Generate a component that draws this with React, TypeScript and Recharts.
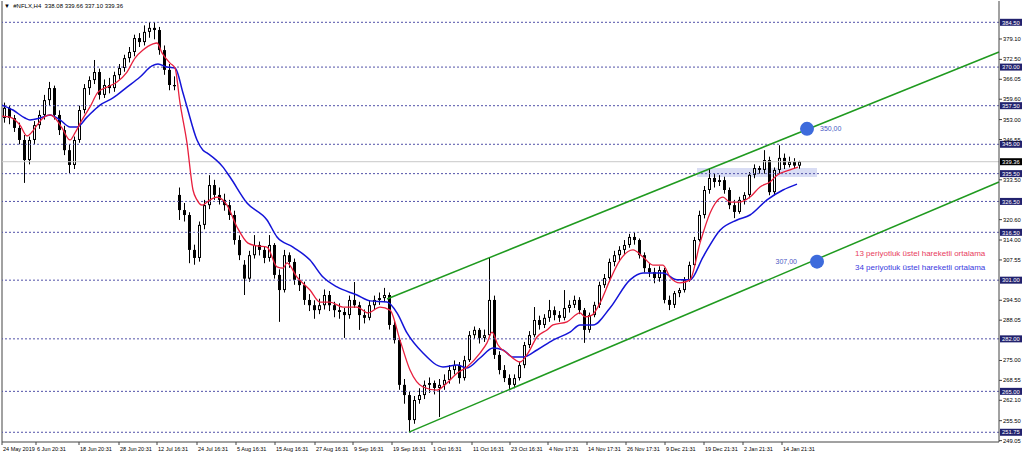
import React from 'react'
import { ComposedChart, Bar, Line, XAxis, YAxis, ReferenceLine, ReferenceArea, ReferenceDot } from 'recharts'

// H4 candles, left to right
const opens = [
  353.5, 356.8, 353.5, 350.3, 346.4, 339.9, 346.4, 351.2, 354.5, 359.3,
  363.2, 354.5, 349.6, 343.1, 338.3, 346.4, 356.1, 363.2, 365.8, 368.4,
  361.0, 364.2, 363.2, 367.4, 369.7, 372.9, 374.9, 379.4, 378.1, 381.4,
  382.7, 382.0, 375.5, 369.1, 364.2, 328.6, 323.7, 322.1, 310.8, 308.2,
  318.9, 325.3, 331.8, 328.6, 327.0, 325.3, 322.1, 314.0, 306.0, 301.5,
  309.1, 312.4, 310.8, 308.2, 312.4, 302.7, 297.8, 309.1, 306.9, 301.1,
  299.4, 294.6, 292.9, 291.3, 292.9, 296.2, 292.9, 291.3, 290.7, 289.7,
  294.6, 292.9, 289.7, 288.8, 292.9, 294.6, 295.2, 296.2, 286.5, 281.6,
  267.1, 263.8, 255.7, 262.2, 263.8, 267.1, 267.7, 266.1, 267.1, 268.7,
  271.9, 273.5, 269.3, 275.1, 283.2, 284.9, 282.3, 283.2, 294.6, 276.8,
  271.9, 269.3, 267.1, 269.3, 273.5, 280.0, 283.2, 288.1, 286.5, 288.8,
  291.3, 289.7, 288.8, 292.0, 293.0, 294.6, 291.3, 284.9, 289.7, 293.0,
  299.4, 301.7, 306.9, 309.1, 310.8, 312.4, 315.0, 314.0, 309.1, 304.9,
  303.6, 301.7, 304.3, 294.6, 293.0, 296.8, 297.8, 301.1, 305.9, 314.0,
  322.1, 330.2, 334.1, 332.8, 333.4, 330.2, 325.3, 323.1, 327.0, 328.6,
  335.1, 337.3, 336.7, 339.9, 329.5, 336.7, 340.6, 338.3, 339.3, 338.08,
]
const highs = [
  358.5, 357.5, 354.5, 352.0, 348.0, 347.5, 352.5, 356.0, 361.0, 365.2,
  364.0, 356.0, 351.0, 345.0, 347.5, 357.5, 364.5, 367.0, 372.3, 369.5,
  366.0, 366.5, 368.5, 371.0, 374.0, 376.5, 380.5, 381.0, 383.5, 384.6,
  384.6, 383.0, 377.0, 371.0, 367.0, 331.0, 326.0, 323.0, 312.5, 320.0,
  327.0, 335.0, 333.5, 331.0, 329.0, 327.0, 323.5, 315.5, 307.5, 310.5,
  315.6, 313.5, 312.0, 315.6, 313.0, 304.5, 310.8, 310.0, 308.0, 303.0,
  300.5, 296.5, 294.5, 295.0, 298.0, 297.5, 294.0, 293.5, 292.0, 296.0,
  300.4, 294.0, 291.5, 294.5, 296.0, 297.0, 298.5, 297.0, 288.0, 282.0,
  269.0, 265.0, 263.5, 266.0, 268.5, 269.5, 268.5, 269.0, 270.5, 273.5,
  275.0, 274.5, 276.5, 284.5, 286.0, 285.5, 285.0, 308.2, 296.0, 278.0,
  273.5, 270.5, 270.5, 274.5, 281.0, 284.5, 292.3, 289.5, 290.0, 294.6,
  292.5, 291.0, 297.8, 294.5, 296.0, 295.5, 292.0, 290.5, 294.0, 300.5,
  303.0, 308.0, 310.5, 312.0, 314.0, 316.0, 316.5, 314.5, 310.0, 306.5,
  305.0, 305.5, 305.0, 296.0, 297.5, 298.5, 302.0, 307.0, 315.0, 323.5,
  331.5, 337.3, 335.5, 335.0, 334.5, 331.0, 327.0, 328.0, 329.5, 336.0,
  338.5, 338.0, 343.1, 341.0, 337.5, 344.7, 342.0, 341.0, 340.5, 339.66,
]
const lows = [
  352.0, 351.5, 349.0, 345.0, 332.5, 338.5, 345.0, 350.0, 353.0, 357.5,
  353.0, 348.0, 341.5, 335.7, 337.0, 345.5, 355.0, 361.0, 364.5, 359.5,
  360.0, 361.5, 362.0, 366.0, 368.5, 371.5, 373.5, 376.5, 377.0, 379.5,
  379.0, 374.0, 367.5, 362.5, 362.5, 320.5, 320.0, 306.5, 306.0, 307.0,
  317.5, 324.0, 327.0, 325.5, 323.5, 320.5, 312.5, 307.5, 296.2, 300.5,
  308.0, 309.0, 306.5, 307.0, 301.5, 287.5, 297.0, 305.0, 299.5, 297.5,
  293.0, 291.0, 288.5, 290.0, 291.5, 291.0, 289.0, 288.5, 282.3, 288.5,
  292.0, 284.9, 287.0, 288.0, 291.5, 293.0, 294.0, 285.0, 280.5, 265.5,
  261.0, 251.8, 254.5, 261.0, 262.5, 264.5, 264.0, 256.7, 265.5, 267.5,
  270.5, 267.5, 268.5, 274.5, 282.0, 280.5, 281.0, 282.5, 275.5, 270.5,
  268.0, 265.4, 266.0, 268.5, 272.5, 279.0, 282.5, 285.0, 285.5, 287.5,
  288.0, 287.5, 288.0, 290.5, 292.0, 290.0, 280.7, 284.0, 289.0, 292.0,
  298.5, 300.5, 305.5, 307.0, 309.5, 311.5, 312.5, 308.0, 303.5, 302.0,
  300.0, 300.5, 293.5, 291.3, 292.0, 295.5, 297.0, 300.5, 305.0, 313.5,
  321.0, 329.0, 331.0, 331.5, 329.0, 324.0, 321.1, 322.5, 325.5, 327.5,
  334.0, 335.5, 335.5, 328.5, 328.5, 335.5, 337.0, 337.5, 337.0, 337.10,
]
const closes = [
  356.8, 353.5, 350.3, 346.4, 339.9, 346.4, 351.2, 354.5, 359.3, 363.2,
  354.5, 349.6, 343.1, 338.3, 346.4, 356.1, 363.2, 365.8, 368.4, 361.0,
  364.2, 363.2, 367.4, 369.7, 372.9, 374.9, 379.4, 378.1, 381.4, 382.7,
  382.0, 375.5, 369.1, 364.2, 363.8, 323.7, 322.1, 310.8, 308.2, 318.9,
  325.3, 331.8, 328.6, 327.0, 325.3, 322.1, 314.0, 309.1, 301.5, 309.1,
  312.4, 310.8, 308.2, 312.4, 302.7, 297.8, 309.1, 306.9, 301.1, 299.4,
  294.6, 292.9, 291.3, 292.9, 296.2, 292.9, 291.3, 290.7, 289.7, 294.6,
  292.9, 289.7, 288.8, 292.9, 294.6, 295.2, 296.2, 286.5, 281.6, 267.1,
  263.8, 255.7, 262.2, 263.8, 267.1, 267.7, 266.1, 267.1, 268.7, 271.9,
  273.5, 269.3, 275.1, 283.2, 284.9, 282.3, 283.2, 294.6, 276.8, 271.9,
  269.3, 267.1, 269.3, 273.5, 280.0, 283.2, 288.1, 286.5, 288.8, 291.3,
  289.7, 288.8, 292.0, 293.0, 294.6, 291.3, 284.9, 289.7, 293.0, 299.4,
  301.7, 306.9, 309.1, 310.8, 312.4, 315.0, 314.0, 309.1, 304.9, 303.6,
  301.7, 304.3, 294.6, 293.0, 296.8, 297.8, 301.1, 305.9, 314.0, 322.1,
  330.2, 334.1, 332.8, 333.4, 330.2, 325.3, 323.1, 327.0, 328.6, 335.1,
  337.3, 336.7, 339.9, 329.5, 336.7, 340.6, 338.3, 339.3, 338.1, 339.36,
]

// moving averages: [bar index, price]
const ema13Points: [number, number][] = [
  [-0.4, 354.1], [1.2, 353.8], [2.2, 352.9], [3.2, 351.2], [4.6, 347.7], [5.6, 349.0],
  [6.6, 351.2], [7.8, 353.5], [9.2, 354.5], [10.2, 353.5], [11.6, 350.3], [13.2, 346.4],
  [14.2, 348.7], [15.6, 352.9], [17.2, 357.1], [18.8, 361.9], [20.6, 363.5], [22.6, 365.2],
  [24.6, 368.4], [26.2, 372.9], [27.8, 375.5], [29.8, 377.5], [30.6, 377.8], [31.6, 374.6],
  [33.2, 371.3], [34.2, 369.7], [35.2, 358.4], [36.6, 345.4], [37.8, 330.2], [38.6, 327.0],
  [39.6, 325.3], [41.2, 327.0], [42.6, 327.9], [44.6, 325.3], [46.6, 318.2], [48.8, 313.0],
  [50.6, 312.1], [52.6, 311.7], [54.6, 305.3], [55.8, 304.9], [56.6, 306.6], [58.6, 302.0],
  [61.2, 297.8], [63.2, 293.9], [65.2, 293.9], [67.8, 292.3], [70.6, 292.3], [72.8, 290.4],
  [75.2, 292.3], [77.2, 291.3], [79.2, 281.6], [81.2, 271.9], [83.8, 266.4], [86.6, 265.4],
  [88.6, 267.7], [90.6, 270.9], [92.6, 272.9], [95.2, 277.4], [96.6, 280.7], [97.6, 284.2],
  [98.8, 280.0], [100.6, 277.4], [103.2, 274.5], [104.8, 277.4], [106.6, 282.6], [108.6, 284.9],
  [109.8, 286.5], [112.6, 287.5], [115.2, 290.4], [116.2, 289.1], [117.6, 289.7], [119.2, 293.6],
  [121.2, 301.1], [123.2, 307.5], [125.8, 310.8], [127.8, 308.5], [129.8, 305.9], [131.8, 305.9],
  [133.2, 302.0], [135.2, 300.1], [137.2, 301.1], [139.2, 313.0], [141.2, 322.7], [143.8, 327.9],
  [145.2, 326.3], [147.2, 326.3], [149.2, 327.9], [151.2, 331.2], [153.2, 332.8], [154.6, 335.0],
  [157.2, 336.7], [158.8, 337.6],
]
const ema34Points: [number, number][] = [
  [-0.4, 357.7], [1.8, 356.1], [4.2, 353.5], [5.2, 352.9], [7.2, 353.5], [9.2, 354.5],
  [11.2, 352.9], [13.2, 350.6], [14.6, 350.6], [16.6, 353.8], [19.2, 357.7], [21.8, 360.0],
  [24.6, 363.5], [27.2, 366.8], [29.6, 370.4], [30.8, 371.0], [32.6, 370.0], [34.2, 369.7],
  [35.8, 361.6], [36.6, 357.1], [38.6, 346.4], [39.8, 343.1], [40.6, 342.2], [43.8, 337.6],
  [45.2, 334.4], [48.6, 326.0], [52.6, 320.5], [54.6, 315.0], [57.8, 311.7], [61.2, 307.5],
  [63.8, 302.0], [66.6, 298.8], [70.6, 296.2], [73.2, 294.3], [76.6, 293.9], [78.6, 290.4],
  [80.6, 283.9], [83.8, 277.4], [87.8, 272.9], [90.6, 273.5], [92.6, 272.6], [95.2, 275.8],
  [97.8, 279.0], [99.8, 278.4], [101.8, 276.1], [103.8, 276.1], [106.6, 278.4], [109.8, 281.6],
  [113.2, 284.2], [115.2, 286.5], [117.8, 286.5], [121.2, 292.0], [125.2, 301.1], [127.8, 303.3],
  [131.8, 303.3], [134.6, 301.1], [137.2, 301.1], [139.8, 308.5], [143.2, 317.2], [146.6, 320.5],
  [149.2, 322.1], [152.6, 327.0], [155.8, 330.2], [158.6, 332.1],
]

const dateTickIdx = [-0.4, 6.4, 15, 23, 30.6, 38.6, 46.4, 54.2, 62.2, 69.8, 77.6, 85.6, 93.6, 101.2, 108.8, 116.6, 124.4, 132.2, 140, 147.8, 155.6]
const dateLabels = [
  '24 May 2019', '6 Jun 20:31', '18 Jun 20:31', '28 Jun 20:31', '12 Jul 16:31', '24 Jul 16:31',
  '5 Aug 16:31', '15 Aug 16:31', '27 Aug 16:31', '9 Sep 16:31', '19 Sep 16:31', '1 Oct 16:31',
  '11 Oct 16:31', '23 Oct 16:31', '4 Nov 17:31', '14 Nov 17:31', '26 Nov 17:31', '9 Dec 21:31',
  '19 Dec 21:31', '2 Jan 21:31', '14 Jan 21:31',
]
const priceTicks = [249.05, 255.5, 262.1, 268.55, 275.0, 288.05, 294.5, 307.55, 314.0, 320.6, 333.5, 346.55, 353.0, 359.6, 366.05, 372.5, 379.1]
const levels = [384.5, 370, 357.5, 345, 335.5, 326.5, 316.5, 301, 282, 265, 251.75]
const lastPrice = 339.36

// channel + targets
const upperChannel: [number, number][] = [[76.6, 294.9], [199, 374.9]]
const lowerChannel: [number, number][] = [[81, 251.8], [199, 332.8]]
const targets = [
  { i: 160.6, price: 350, label: '350,00', side: 'right' },
  { i: 162.6, price: 307, label: '307,00', side: 'left' },
]
const zone = { i1: 138.6, i2: 162.6, p1: 334.4, p2: 337.3 }

const candles = opens.map((o, i) => ({
  i,
  o,
  h: highs[i],
  l: lows[i],
  c: closes[i],
  range: [lows[i], highs[i]],
}))

const Candle = (props: any) => {
  const { x, y, width, height, payload } = props
  const { o, h, l, c } = payload
  const top = Math.min(y, y + height)
  const hgt = Math.abs(height)
  const k = h - l > 0 ? hgt / (h - l) : 0
  const cx = Math.round(x + width / 2) + 0.5
  const yO = top + (h - o) * k
  const yC = top + (h - c) * k
  const bTop = Math.min(yO, yC)
  const bH = Math.max(1, Math.abs(yO - yC))
  const bull = c >= o
  return (
    <g>
      <line x1={cx} x2={cx} y1={top} y2={top + hgt} stroke="#000" strokeWidth={1} />
      <rect x={cx - 1.5} y={bTop} width={3} height={bH} fill="#000" />
      {bull && bH > 2 && <rect x={cx - 0.5} y={bTop + 1} width={1} height={bH - 2} fill="#fff" />}
    </g>
  )
}

const LevelBox = ({ viewBox, text, bg }: any) => {
  if (!viewBox) return null
  const x = viewBox.x + viewBox.width + 1
  return (
    <g>
      <rect x={x} y={viewBox.y - 3.5} width={22} height={7} fill={bg} />
      <text x={x + 2} y={viewBox.y + 2.2} fontSize={5.8} fill="#fff" fontFamily="Liberation Sans, Arial">{text}</text>
    </g>
  )
}

const font = 'Liberation Sans, Arial, sans-serif'

export default function App() {
  return (
    <div style={{ position: 'relative', width: 1024, height: 456, background: '#fff', fontFamily: font }}>
      <style>{'body{margin:0}'}</style>
      <ComposedChart width={1024} height={456} data={candles} margin={{ top: 1, right: 0, bottom: 0, left: 2 }}>
        <XAxis
          dataKey="i"
          type="number"
          domain={[-0.4, 199]}
          allowDataOverflow
          ticks={dateTickIdx}
          interval={0}
          height={14}
          tickSize={3}
          stroke="#444"
          tick={(p: any) => (
            <text x={p.x + 1} y={p.y + 4} fontSize={5.5} fill="#000" fontFamily={font} textAnchor="start">
              {dateLabels[dateTickIdx.indexOf(p.payload.value)]}
            </text>
          )}
        />
        <YAxis
          orientation="right"
          type="number"
          domain={[248.6, 391.4]}
          allowDataOverflow
          ticks={priceTicks}
          interval={0}
          width={25}
          tickSize={3}
          tickMargin={1}
          stroke="#444"
          tick={(p: any) => (
            <text x={p.x} y={p.y + 2} fontSize={5.8} fill="#000" fontFamily={font} textAnchor="start">
              {Number(p.payload.value).toFixed(2)}
            </text>
          )}
        />
        <ReferenceLine x={-0.4} stroke="#444" />
        <ReferenceArea x1={zone.i1} x2={zone.i2} y1={zone.p1} y2={zone.p2} fill="#d9ddf4" fillOpacity={1} stroke="none" />
        <ReferenceLine y={lastPrice} stroke="#c8c8c8" label={<LevelBox text={lastPrice.toFixed(2)} bg="#000" />} />
        {levels.map((lv) => (
          <ReferenceLine
            key={lv}
            y={lv}
            stroke="#5252a8"
            strokeDasharray="2 2"
            label={<LevelBox text={lv.toFixed(2)} bg="#22226e" />}
          />
        ))}
        <ReferenceLine
          segment={upperChannel.map(([x, y]) => ({ x, y }))}
          stroke="#1f9a1f"
          strokeWidth={1.5}
        />
        <ReferenceLine
          segment={lowerChannel.map(([x, y]) => ({ x, y }))}
          stroke="#1f9a1f"
          strokeWidth={1.5}
        />
        <Bar dataKey="range" shape={<Candle />} barSize={3} isAnimationActive={false} />
        <Line
          data={ema34Points.map(([i, v]) => ({ i, v }))}
          dataKey="v"
          type="monotone"
          stroke="#1414d8"
          strokeWidth={1.5}
          dot={false}
          isAnimationActive={false}
        />
        <Line
          data={ema13Points.map(([i, v]) => ({ i, v }))}
          dataKey="v"
          type="monotone"
          stroke="#e8203e"
          strokeWidth={1.3}
          dot={false}
          isAnimationActive={false}
        />
        {targets.map((t) => (
          <ReferenceDot
            key={t.label}
            x={t.i}
            y={t.price}
            r={7}
            fill="#3d6bdc"
            stroke="none"
            label={{ value: t.label, position: t.side as any, offset: t.side === 'right' ? 6 : 13, fill: '#4a58c4', fontSize: 7, fontFamily: font }}
          />
        ))}
      </ComposedChart>
      <div style={{ position: 'absolute', left: 4, top: 3, fontSize: 6, color: '#000', whiteSpace: 'nowrap' }}>
        ▼ &nbsp;#NFLX,H4 &nbsp;338.08 339.66 337.10 339.36
      </div>
      <div style={{ position: 'absolute', left: 855, top: 249, fontSize: 8, lineHeight: '10px', color: '#e8405e', whiteSpace: 'nowrap' }}>
        13 periyotluk üstel hareketli ortalama
      </div>
      <div style={{ position: 'absolute', left: 855, top: 263, fontSize: 8, lineHeight: '10px', color: '#3a3ae0', whiteSpace: 'nowrap' }}>
        34 periyotluk üstel hareketli ortalama
      </div>
    </div>
  )
}
